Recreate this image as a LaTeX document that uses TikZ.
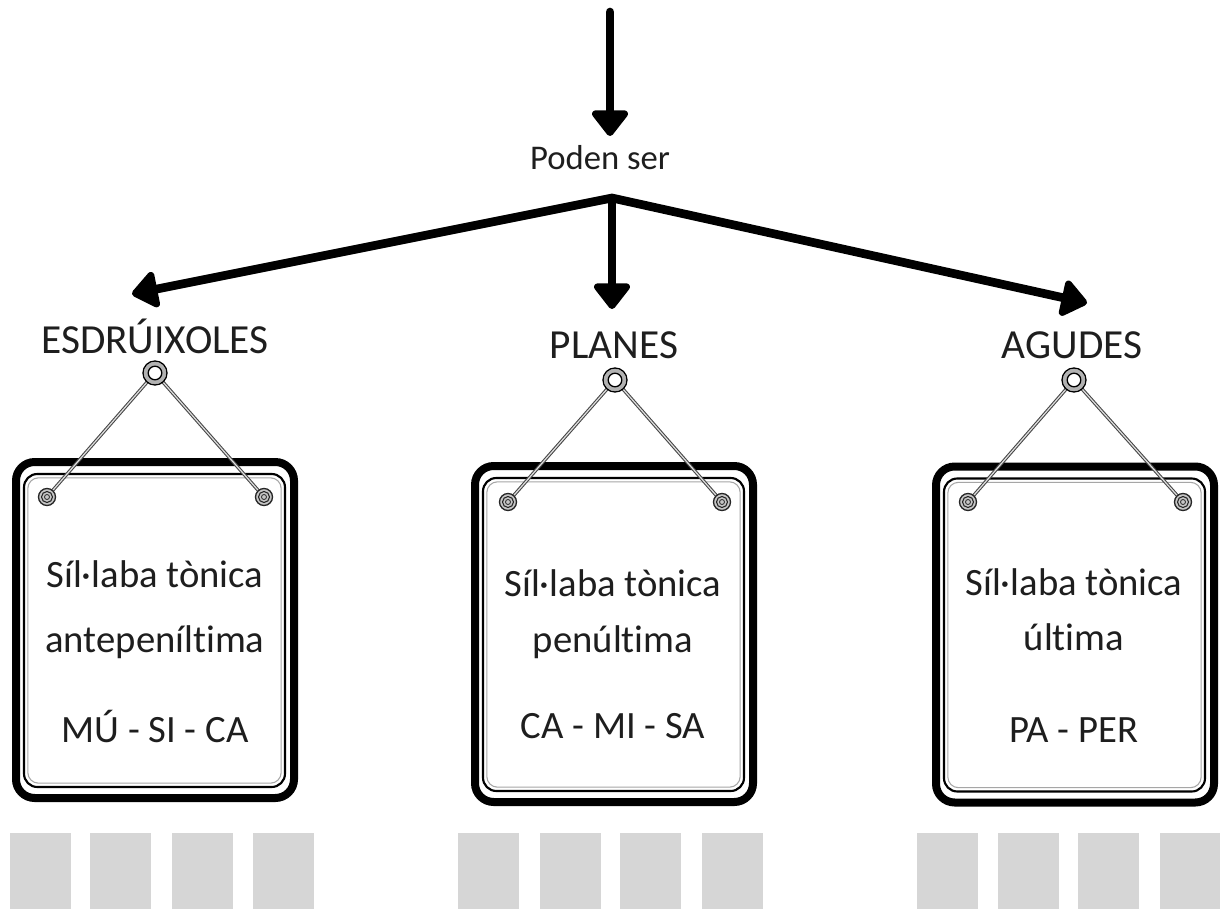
\documentclass[tikz,border=0pt]{standalone}
\usepackage{fontspec}
\setmainfont{Carlito}[Ligatures=NoCommon]
\usetikzlibrary{arrows.meta}
\definecolor{sqgray}{HTML}{D6D6D6}
\definecolor{ink}{HTML}{1E1E1E}
\begin{document}
\begin{tikzpicture}[x=0.75pt,y=-0.75pt,
  arr/.style={draw=black, line width=6.5pt, line cap=round, -{Triangle[width=31pt,length=21pt,round]}},
  lab/.style={font=\fontsize{31}{37}\selectfont, inner sep=0pt, anchor=base, text=ink},
  signtxt/.style={font=\fontsize{29}{35}\selectfont, inner sep=0pt, anchor=base, text=ink},
  outerbox/.style={draw=black, line width=6pt, rounded corners=14pt, minimum width=208.5pt, minimum height=252pt, inner sep=0pt, fill=white},
  innerbox/.style={draw=black, line width=1.6pt, rounded corners=10pt, minimum width=195.75pt, minimum height=234.75pt, inner sep=0pt},
  innerline/.style={draw=gray!70, line width=0.8pt, rounded corners=8pt, minimum width=190pt, minimum height=229pt, inner sep=0pt},
  string/.style={draw=gray!55!black, double=gray!25, double distance=0.9pt, line width=0.8pt},
  sq/.style={fill=sqgray},
]
\useasboundingbox (0,0) rectangle (1220,909);

% top arrow and "Poden ser"
\coordinate (top) at (610,12);
\coordinate (tipTop) at (610,136);
\node[font=\fontsize{26}{31}\selectfont, inner sep=0pt, anchor=base, text=ink] (poden) at (600,170) {Poden ser};
\draw[arr] (top) -- (tipTop);

% branching arrows
\coordinate (j) at (612,198);
\coordinate (tipL) at (132,294);
\coordinate (tipM) at (612,309);
\coordinate (tipR) at (1087,303);
\draw[arr] (j) -- (tipL);
\draw[arr] (j) -- (tipM);
\draw[arr] (j) -- (tipR);

% labels
\node[lab] (esd) at (155,353) {ESDRÚIXOLES};
\node[lab] (pla) at (614,358) {PLANES};
\node[lab] (agu) at (1072,358) {AGUDES};

% sign boxes
\node[outerbox] (boxL) at (155,630) {};
\node[innerbox] (inL) at (154.5,630.5) {};
\node[innerline] (ilL) at (154.5,630.5) {};
\node[outerbox] (boxM) at (614,634) {};
\node[innerbox] (inM) at (613.5,634.5) {};
\node[innerline] (ilM) at (613.5,634.5) {};
\node[outerbox] (boxR) at (1075,634.5) {};
\node[innerbox] (inR) at (1074.5,635) {};
\node[innerline] (ilR) at (1074.5,635) {};

% hanging points
\coordinate (ringL) at (155,373);
\coordinate (sL1) at (47,497);
\coordinate (sL2) at (264,497);
\coordinate (ringM) at (615,380);
\coordinate (sM1) at (508,502);
\coordinate (sM2) at (722,502);
\coordinate (ringR) at (1074,380);
\coordinate (sR1) at (968,502);
\coordinate (sR2) at (1183,502);

\foreach \r/\a/\b in {ringL/sL1/sL2, ringM/sM1/sM2, ringR/sR1/sR2}{
  \draw[string] (\r) -- (\a);
  \draw[string] (\r) -- (\b);
  \foreach \s in {\a,\b}{
    \fill[gray!45] (\s) circle[radius=8.5];
    \draw[gray!30!black, line width=1pt] (\s) circle[radius=8.5];
    \draw[gray!30!black, line width=0.8pt] (\s) circle[radius=5.5];
    \draw[gray!30!black, line width=0.6pt] (\s) circle[radius=2.5];
  }
  \fill[white] (\r) circle[radius=11.5];
  \draw[gray!60, line width=2.8pt] (\r) circle[radius=9.2];
  \draw[black, line width=1pt] (\r) circle[radius=12];
  \draw[black, line width=1pt] (\r) circle[radius=6.8];
}

% sign texts
\node[signtxt] (tL1) at (155,587) {Síl·laba tònica};
\node[signtxt] (tL2) at (155,652) {antepeníltima};
\node[signtxt] (tL3) at (155,742) {MÚ - SI - CA};
\node[signtxt] (tM1) at (613,596) {Síl·laba tònica};
\node[signtxt] (tM2) at (613,652) {penúltima};
\node[signtxt] (tM3) at (613,738) {CA - MI - SA};
\node[signtxt] (tR1) at (1074,595) {Síl·laba tònica};
\node[signtxt] (tR2) at (1074,650) {última};
\node[signtxt] (tR3) at (1074,742) {PA - PER};

% grey squares
\foreach \x in {10,90,172,253, 458,540,620,702, 917,998,1078,1160}{
  \fill[sq] (\x,833) rectangle ++(61,76);
}
\end{tikzpicture}
\end{document}
